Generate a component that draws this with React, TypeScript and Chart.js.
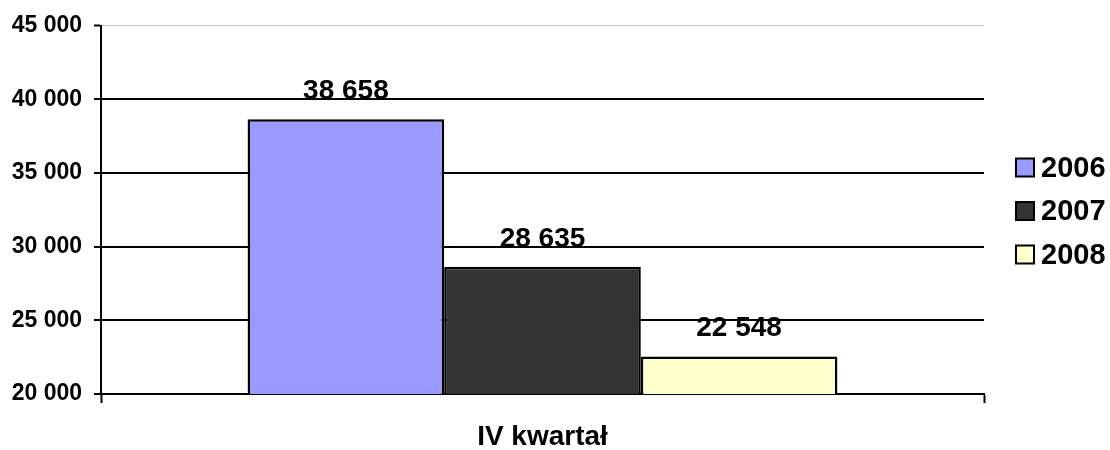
import React, { useEffect, useRef } from "react";
import { Chart, registerables } from "chart.js";

Chart.register(...registerables);

const categories = ["IV kwartał"];
const seriesLabels = ["2006", "2007", "2008"];
const values2006 = [38658];
const values2007 = [28635];
const values2008 = [22548];
const seriesColors = ["#9999FF", "#333333", "#FFFFCC"];
const yMin = 20000;
const yMax = 45000;
const yStep = 5000;

const FONT = "'Liberation Sans', Arial, sans-serif";

const fmt = (v: number) =>
  String(Math.round(v)).replace(/\B(?=(\d{3})+(?!\d))/g, " ");

const valueLabelsPlugin = {
  id: "valueLabels",
  afterDatasetsDraw(chart: any) {
    const ctx = chart.ctx;
    ctx.save();
    ctx.font = `bold 28px ${FONT}`;
    ctx.fillStyle = "#000";
    ctx.textAlign = "center";
    ctx.textBaseline = "middle";
    chart.data.datasets.forEach((ds: any, i: number) => {
      const meta = chart.getDatasetMeta(i);
      meta.data.forEach((bar: any, j: number) => {
        ctx.fillText(fmt(ds.data[j]), bar.x, bar.y - 28);
      });
    });
    ctx.restore();
  },
};

const sideLegendPlugin = {
  id: "sideLegend",
  afterDraw(chart: any) {
    const ctx = chart.ctx;
    const ds = chart.data.datasets;
    const gap = 43.5;
    const cy = 211;
    const startY = cy - ((ds.length - 1) * gap) / 2;
    ctx.save();
    ctx.font = `bold 29px ${FONT}`;
    ctx.textAlign = "left";
    ctx.textBaseline = "middle";
    ds.forEach((d: any, i: number) => {
      const y = startY + i * gap;
      const size = 18;
      ctx.fillStyle = d.backgroundColor;
      ctx.fillRect(1016, y - size / 2, size, size);
      ctx.lineWidth = 2;
      ctx.strokeStyle = "#000";
      ctx.strokeRect(1016, y - size / 2, size, size);
      ctx.fillStyle = "#000";
      ctx.fillText(d.label, 1041, y + 1);
    });
    ctx.restore();
  },
};

export default function App() {
  const ref = useRef<HTMLCanvasElement>(null);

  useEffect(() => {
    if (!ref.current) return;
    const seriesValues = [values2006, values2007, values2008];
    const chart = new Chart(ref.current, {
      type: "bar",
      data: {
        labels: categories,
        datasets: seriesLabels.map((label, i) => ({
          label,
          data: seriesValues[i],
          backgroundColor: seriesColors[i],
          borderColor: "#000",
          borderWidth: 2.5,
          borderSkipped: false,
          categoryPercentage: 0.668,
          barPercentage: 1,
        })),
      },
      options: {
        animation: false,
        responsive: false,
        devicePixelRatio: 1,
        layout: { padding: { top: 25, right: 126, left: 0, bottom: 0 } },
        plugins: {
          legend: { display: false },
          tooltip: { enabled: false },
        },
        scales: {
          x: {
            offset: true,
            grid: {
              offset: true,
              display: true,
              drawOnChartArea: false,
              drawTicks: true,
              tickLength: 9,
              tickWidth: 2,
              tickColor: "#000",
              color: "#000",
            },
            border: { display: true, color: "#000", width: 2 },
            ticks: {
              color: "#000",
              font: { family: FONT, size: 28, weight: "bold" },
              padding: 17,
            },
            afterFit(scale: any) {
              scale.height = 56;
            },
          },
          y: {
            min: yMin,
            max: yMax,
            grid: {
              color: (c: any) => (c.tick && c.tick.value === yMax ? "#c8c8c8" : "#000"),
              lineWidth: (c: any) => (c.tick && c.tick.value === yMax ? 1 : 2),
              tickColor: "#000",
              tickWidth: 2,
              tickLength: 7,
              drawTicks: true,
            },
            border: { display: true, color: "#000", width: 2 },
            ticks: {
              stepSize: yStep,
              color: "#000",
              padding: 12,
              font: { family: FONT, size: 23, weight: "bold" },
              callback: (v: any) => fmt(Number(v)),
            },
            afterFit(scale: any) {
              scale.width = 101;
            },
          },
        },
      },
      plugins: [valueLabelsPlugin, sideLegendPlugin],
    });
    return () => chart.destroy();
  }, []);

  return (
    <canvas
      ref={ref}
      width={1110}
      height={450}
      style={{ position: "absolute", left: 0, top: 0, width: 1110, height: 450 }}
    />
  );
}
